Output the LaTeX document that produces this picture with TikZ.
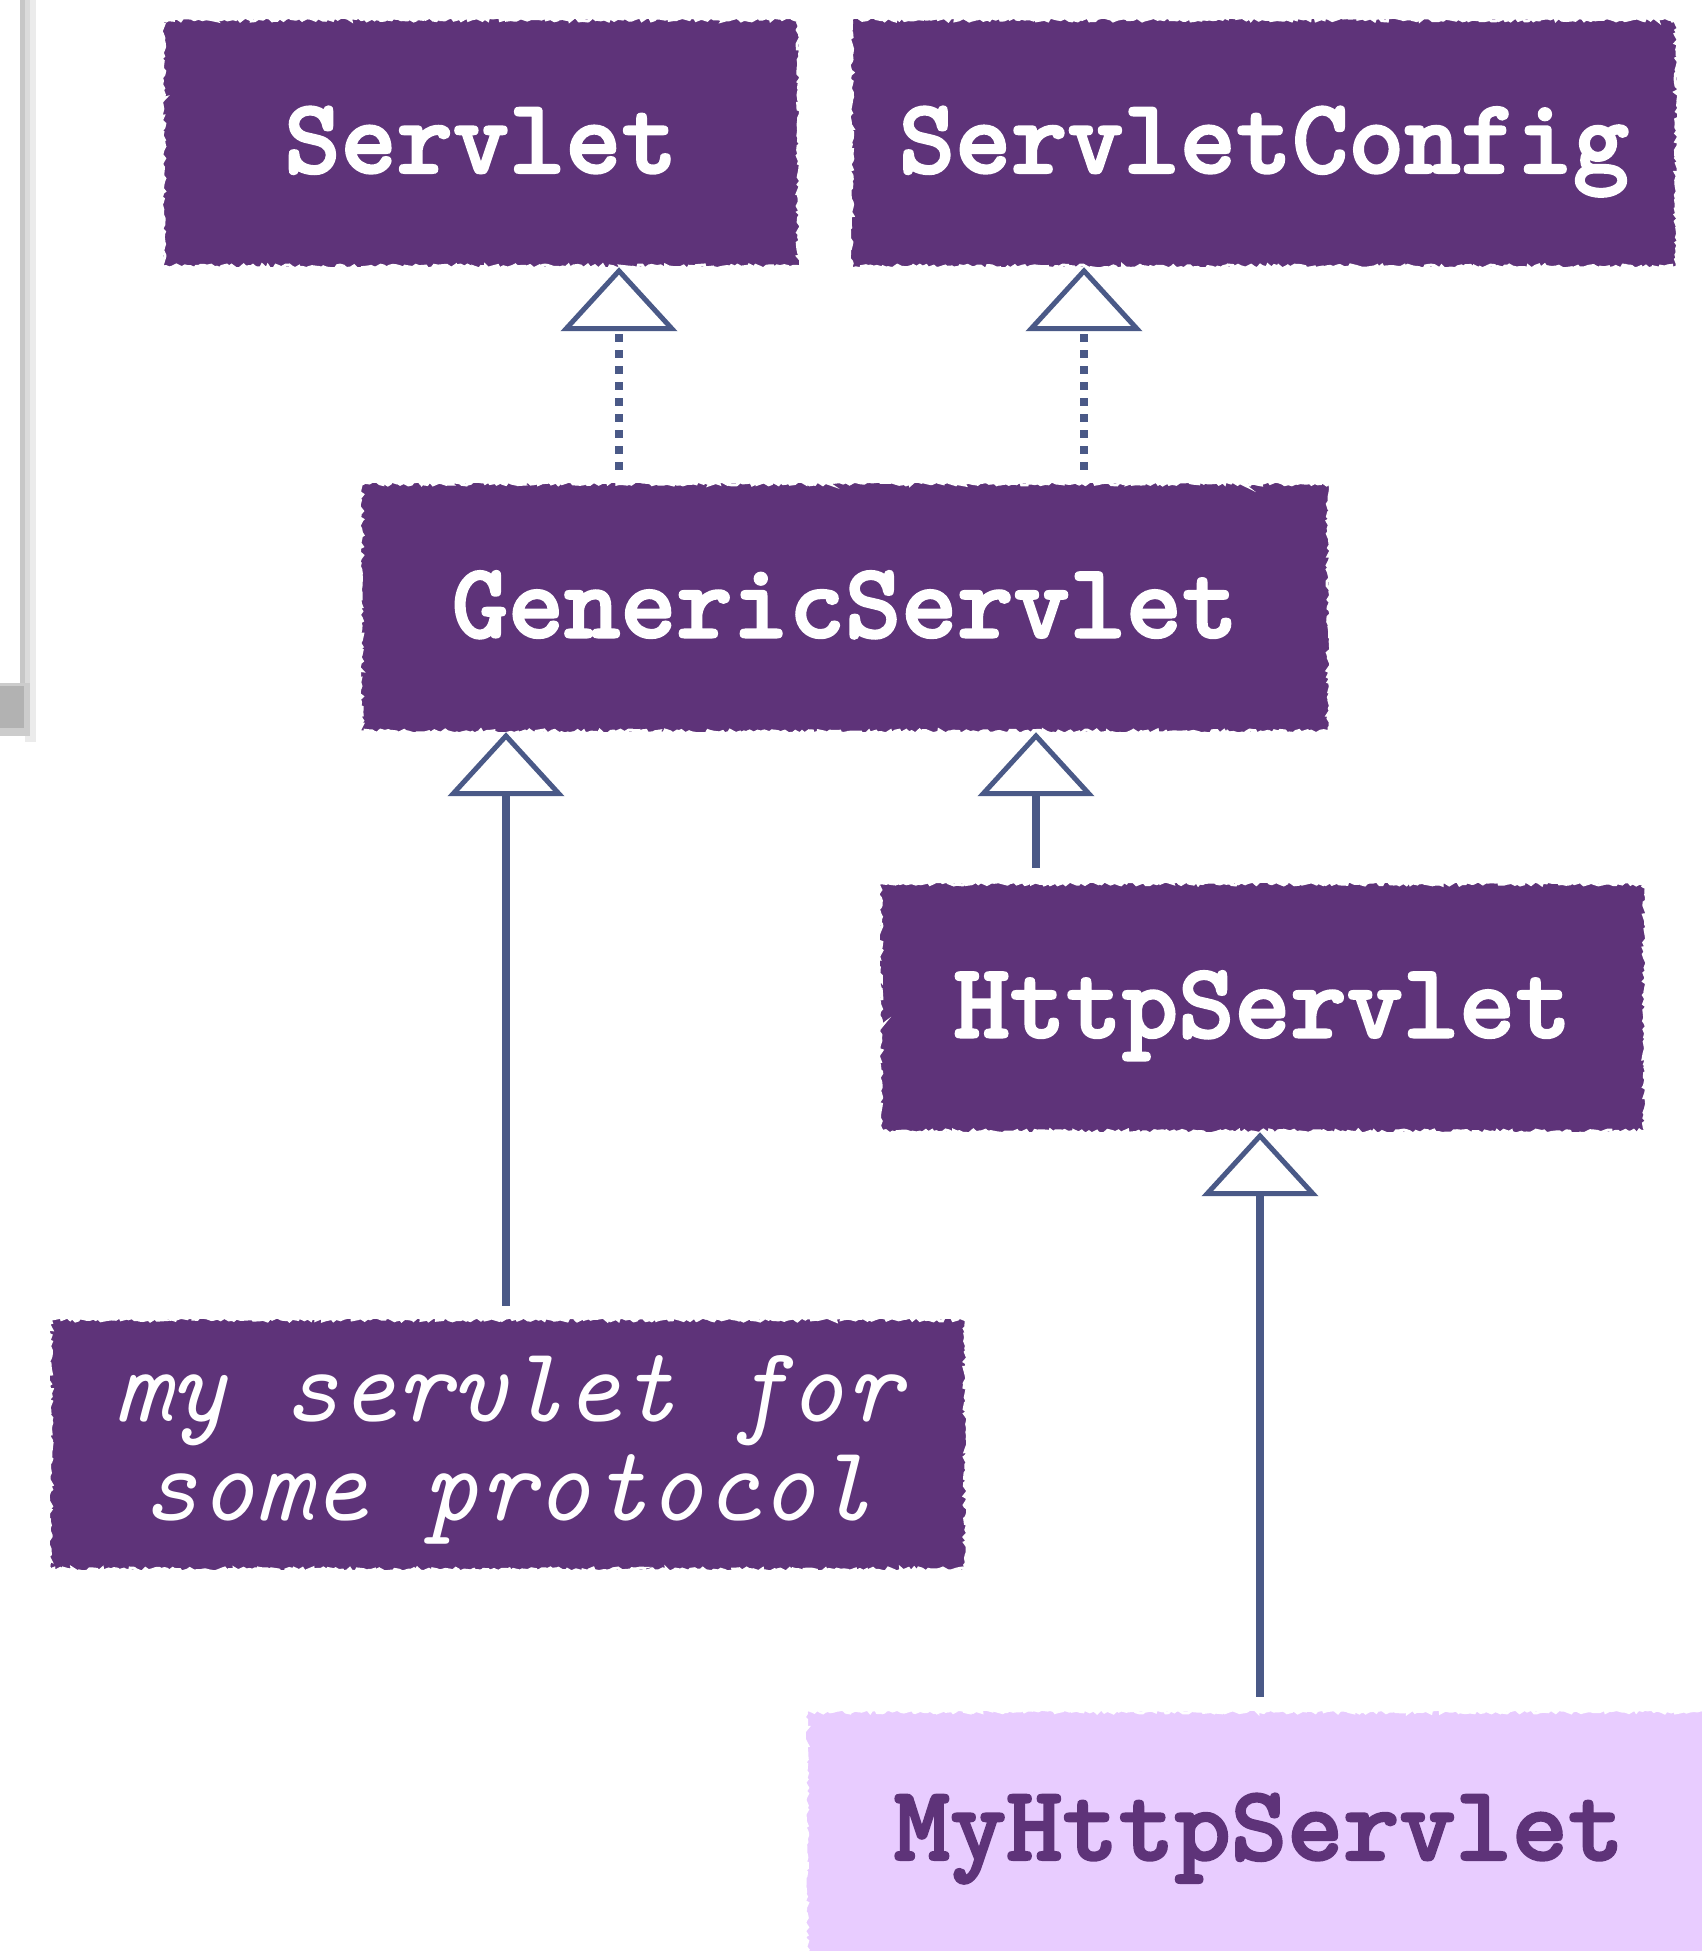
\documentclass[tikz,border=0pt]{standalone}
\usepackage{fontspec}
\newfontfamily\ttheavy{lmmonolt10-bold.otf}[FakeBold=2]
\usetikzlibrary{arrows.meta,decorations.pathmorphing}
\definecolor{boxpurple}{RGB}{94,51,121}
\definecolor{lightpurple}{RGB}{232,204,255}
\definecolor{linkblue}{RGB}{74,89,135}
\tikzset{
  ragged/.style={postaction={draw=white, line width=3pt, decorate,
      decoration={random steps, segment length=3pt, amplitude=2pt}}},
  cls/.style={rectangle, fill=boxpurple, text=white, inner sep=0pt,
      font=\ttheavy\fontsize{107}{99}\selectfont,
      text height=60pt, text depth=0pt, ragged},
  mycls/.style={cls, fill=lightpurple, text=boxpurple},
  notecls/.style={rectangle, fill=boxpurple, text=white, inner sep=0pt,
      font=\ttfamily\itshape\fontsize{107}{99}\selectfont, align=center,
      text height=151pt, text depth=0pt, ragged},
  realize/.style={draw=linkblue, line width=8pt, dash pattern=on 8pt off 8pt,
      -{Triangle[open, length=64pt, width=116pt, line width=5pt]}},
  inherit/.style={draw=linkblue, line width=8pt,
      -{Triangle[open, length=64pt, width=116pt, line width=5pt]}},
}
\begin{document}
\begin{tikzpicture}[x=1pt, y=-1pt]
\useasboundingbox (0,0) rectangle (1702,1951);
\pgfmathsetseed{7}
% side panel with shadow
\fill[black!8] (25,0) rectangle (36,742);
\fill[black!14] (20,0) rectangle (30,736);
\fill[black!22] (20,0) rectangle (25,683);
\fill[black!20] (0,683) rectangle (30,736);
\fill[black!30] (0,686) rectangle (24,728);
\fill[white] (0,0) rectangle (20,683);

% classes
\node[cls, minimum width=636pt, minimum height=248pt] (servlet) at (481,143) {Servlet};
\node[cls, minimum width=826pt, minimum height=248pt] (config) at (1264,143) {ServletConfig};
\node[cls, minimum width=968pt, minimum height=249pt] (generic) at (845,607.5) {GenericServlet};
\node[cls, minimum width=765pt, minimum height=249pt] (http) at (1262.5,1007.5) {HttpServlet};
\node[notecls, minimum width=916pt, minimum height=251pt] (mine) at (508,1444.5) {my servlet for\\some protocol};
\node[mycls, text height=40pt, minimum width=906pt, minimum height=258pt] (myhttp) at (1259,1840) {MyHttpServlet};

% connector columns
\coordinate (cA) at (619,0);
\coordinate (cB) at (1084,0);
\coordinate (cC) at (506,0);
\coordinate (cD) at (1036,0);
\coordinate (cE) at (1260,0);

\draw[realize, shorten <=13pt] (generic.north -| cA) -- (servlet.south -| cA);
\draw[realize, shorten <=13pt] (generic.north -| cB) -- (config.south -| cB);
\draw[inherit, shorten <=13pt] (mine.north -| cC) -- (generic.south -| cC);
\draw[inherit, shorten <=15pt] (http.north -| cD) -- (generic.south -| cD);
\draw[inherit, shorten <=14pt] (myhttp.north -| cE) -- (http.south -| cE);
\end{tikzpicture}
\end{document}
